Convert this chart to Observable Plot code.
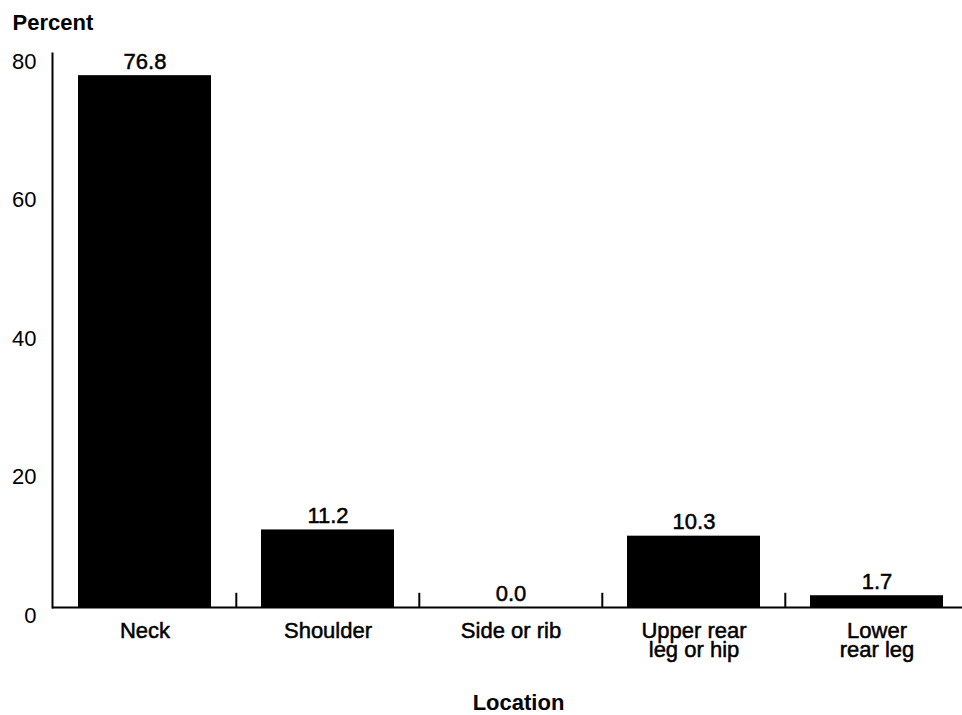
<!DOCTYPE html>
<html>
<head>
<meta charset="utf-8">
<script src="https://cdn.jsdelivr.net/npm/d3@7"></script>
<script src="https://cdn.jsdelivr.net/npm/@observablehq/plot@0.6"></script>
<style>
  html, body { margin: 0; padding: 0; background: #fff; }
  svg { display: block; }
</style>
</head>
<body>
<div id="chart"></div>
<script>
const categories = ["Neck", "Shoulder", "Side or rib", "Upper rear leg or hip", "Lower rear leg"];
const labels = ["Neck", "Shoulder", "Side or rib", "Upper rear\nleg or hip", "Lower\nrear leg"];
const values = [76.8, 11.2, 0.0, 10.3, 1.7];
const yTicks = [0, 20, 40, 60, 80];
const yTitle = "Percent";
const xTitle = "Location";

const data = categories.map((c, i) => ({category: c, label: labels[i], value: values[i]}));

const font = "'Liberation Sans', Arial, Helvetica, sans-serif";
const step = (969 - 52) / categories.length;
const textStroke = {stroke: "#000", strokeWidth: 0.5};

const chart = Plot.plot({
  width: 962,
  height: 715,
  marginLeft: 52,
  marginRight: 0,
  marginTop: 53,
  marginBottom: 108,
  style: {fontFamily: font, fontSize: "22px", color: "#000", background: "#fff"},
  x: {domain: categories, range: [52, 969], paddingInner: 0.273, paddingOuter: 0.1365, axis: null},
  y: {domain: [0, 80], axis: null},
  marks: [
    Plot.barY(data, {x: "category", y: "value", fill: "#000"}),
    Plot.frame({anchor: "left", stroke: "#000", strokeWidth: 2}),
    Plot.ruleY([0], {stroke: "#000", strokeWidth: 2}),
    Plot.ruleX(categories.slice(1), {x: d => d, y1: 0, y2: 2.05, dx: -step / 2, stroke: "#000", strokeWidth: 2}),
    Plot.axisY({ticks: yTicks, label: null, tickSize: 0, tickPadding: 16, dy: 8, fontSize: 22, fill: "#000", ...textStroke}),
    Plot.text(data, {x: "category", y: "value", text: d => d.value.toFixed(1), lineAnchor: "bottom", dy: -7, fontSize: 22, fill: "#000", ...textStroke}),
    Plot.text(data, {x: "category", text: "label", frameAnchor: "bottom", lineAnchor: "top", dy: 16, lineHeight: 0.9, fontSize: 22, fill: "#000", ...textStroke}),
    Plot.text([yTitle], {frameAnchor: "top-left", text: d => d, textAnchor: "start", lineAnchor: "bottom", dx: -40, dy: -24, fontSize: 22, fontWeight: "bold", fill: "#000"}),
    Plot.text([xTitle], {frameAnchor: "bottom", text: d => d, lineAnchor: "bottom", dx: 11, dy: 102, fontSize: 22, fontWeight: "bold", fill: "#000"})
  ]
});
document.getElementById("chart").appendChild(chart);
</script>
</body>
</html>
